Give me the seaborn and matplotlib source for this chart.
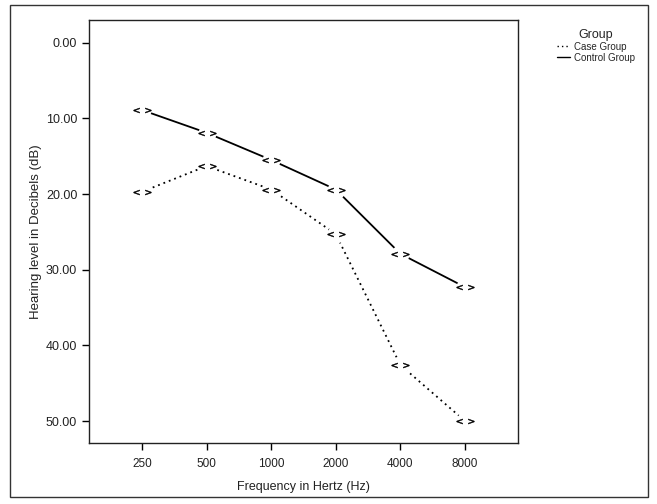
import pandas as pd
import matplotlib as mpl
import matplotlib.pyplot as plt
import seaborn as sns
from matplotlib.patches import Rectangle

# ---- data ------------------------------------------------------------------
frequencies = ["250", "500", "1000", "2000", "4000", "8000"]
case_db = [19.7, 16.3, 19.4, 25.3, 42.6, 50.0]
control_db = [8.9, 11.9, 15.5, 19.4, 27.9, 32.3]
groups = ["Case Group", "Control Group"]
y_ticks = [0, 10, 20, 30, 40, 50]

df = pd.concat([
    pd.DataFrame({"freq": frequencies, "db": case_db, "Group": groups[0]}),
    pd.DataFrame({"freq": frequencies, "db": control_db, "Group": groups[1]}),
], ignore_index=True)

sns.set_style("white")
plt.rcParams["font.family"] = ["Liberation Sans", "DejaVu Sans"]
plt.rcParams["axes.linewidth"] = 1.0

fig = plt.figure(figsize=(6.57, 5.04), dpi=100)
ax = fig.add_axes([89 / 657, 1 - 443 / 504, (518 - 89) / 657, (443 - 20) / 504])

sns.lineplot(
    data=df, x="freq", y="db", hue="Group", style="Group",
    palette={g: "black" for g in groups},
    dashes={"Case Group": (1, 2.2), "Control Group": ""},
    linewidth=1.3, sort=False, ax=ax, legend=True,
)
# white pads so the lines break around the markers
sns.scatterplot(data=df, x="freq", y="db", color="white", s=170, marker="o",
                linewidth=0, ax=ax, legend=False, zorder=3)
sns.scatterplot(data=df, x="freq", y="db", color="black", edgecolor="black",
                s=160, marker=r"$<>$", linewidth=0.35, ax=ax, legend=False,
                zorder=4)

ax.set_xlim(-0.82, 5.82)
ax.set_ylim(52.9, -3.0)
ax.set_yticks(y_ticks)
ax.set_yticklabels([f"{v:.2f}" for v in y_ticks])
ax.tick_params(axis="both", direction="out", length=5, width=1, color="black",
               left=True, bottom=True, labelcolor="#222222")
ax.tick_params(axis="y", labelsize=9)
ax.tick_params(axis="x", labelsize=8.5, pad=6)
for sp in ax.spines.values():
    sp.set_color("#222222")
    sp.set_linewidth(1.0)

ax.set_xlabel("Frequency in Hertz (Hz)", fontsize=9, color="#222222", labelpad=8)
ax.set_ylabel("Hearing level in Decibels (dB)", fontsize=9.5, color="#222222", labelpad=3)

handles, labels = ax.get_legend_handles_labels()
leg = ax.legend(handles[-2:], labels[-2:], title="Group", frameon=False,
                loc="upper left", bbox_to_anchor=(1.07, 1.0),
                fontsize=7, title_fontsize=9, handlelength=1.4,
                handletextpad=0.4, labelspacing=0.1)
for line in leg.get_lines():
    line.set_linewidth(1.0)

# outer frame around the whole figure
fig.add_artist(Rectangle((10 / 657, 7 / 504), 638 / 657, 492 / 504,
                         transform=fig.transFigure, fill=False,
                         edgecolor="#333333", linewidth=1.0))

fig.savefig("out.png", dpi=100)
